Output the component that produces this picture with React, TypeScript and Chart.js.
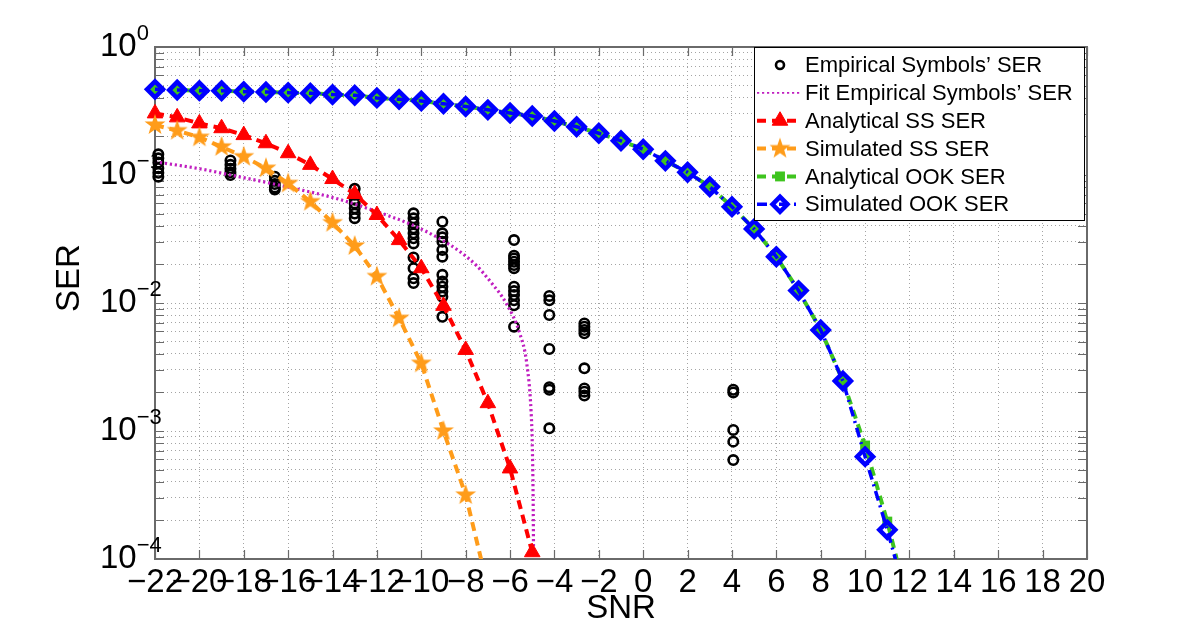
import React, { useEffect, useRef } from 'react';
import { Chart, registerables } from 'chart.js';
import { drawPoint } from 'chart.js/helpers';

Chart.register(...registerables);

// ---------- data ----------
const snrOOK = [-22, -21, -20, -19, -18, -17, -16, -15, -14, -13, -12, -11, -10, -9, -8, -7, -6, -5, -4, -3, -2, -1, 0, 1, 2, 3, 4, 5, 6, 7, 8, 9, 10, 11, 12];
const analyticalOOK = [0.467, 0.461, 0.456, 0.455, 0.448, 0.445, 0.44, 0.435, 0.425, 0.42, 0.4, 0.39, 0.379, 0.36, 0.343, 0.323, 0.305, 0.289, 0.264, 0.238, 0.212, 0.185, 0.159, 0.129, 0.105, 0.081, 0.0565, 0.0379, 0.023, 0.0125, 0.00615, 0.00246, 0.00077, 0.000196, 0.00004];
const simulatedOOK = [0.467, 0.461, 0.456, 0.455, 0.448, 0.445, 0.44, 0.435, 0.425, 0.42, 0.4, 0.39, 0.379, 0.36, 0.343, 0.323, 0.305, 0.289, 0.264, 0.238, 0.212, 0.185, 0.159, 0.129, 0.105, 0.081, 0.0565, 0.0379, 0.023, 0.0125, 0.00615, 0.00246, 0.00063, 0.000169, 0.00004];

const snrAnalyticalSS = [-22, -21, -20, -19, -18, -17, -16, -15, -14, -13, -12, -11, -10, -9, -8, -7, -6, -5];
const analyticalSS = [0.303, 0.282, 0.253, 0.232, 0.205, 0.177, 0.148, 0.12, 0.093, 0.0711, 0.0487, 0.031, 0.0187, 0.0095, 0.0043, 0.00165, 0.00051, 0.000113];

const snrSimulatedSS = [-22, -21, -20, -19, -18, -17, -16, -15, -14, -13, -12, -11, -10, -9, -8, -7];
const simulatedSS = [0.246, 0.222, 0.197, 0.166, 0.139, 0.113, 0.086, 0.0619, 0.0424, 0.0279, 0.0161, 0.0076, 0.00338, 0.001, 0.000316, 0.00006];

const fitSNR = [-22, -20, -18.6, -16.4, -13.7, -12, -10.4, -9.2, -8.3, -7.5, -6.9, -6.15, -5.55, -5.25, -5.05, -5.0, -4.96, -4.94, -4.93];
const fitSER = [0.127, 0.112, 0.1, 0.0833, 0.0646, 0.0517, 0.0407, 0.032, 0.0255, 0.0195, 0.0148, 0.0098, 0.0057, 0.0034, 0.0014, 0.0008, 0.0003, 0.0001, 0.00005];

const empiricalSNR = [-21.85, -18.6, -16.6, -13.0, -10.35, -9.05, -5.82, -4.23, -2.65, 4.06];
const empiricalSER = [
  [0.145, 0.135, 0.125, 0.113, 0.104, 0.097],
  [0.13, 0.12, 0.112, 0.105, 0.1],
  [0.097, 0.09, 0.085, 0.08, 0.077],
  [0.078, 0.07, 0.064, 0.06, 0.055, 0.05, 0.046],
  [0.0502, 0.0459, 0.042, 0.0383, 0.035, 0.032, 0.0292, 0.0227, 0.0187, 0.0156, 0.0143],
  [0.0432, 0.035, 0.0326, 0.0301, 0.026, 0.023, 0.0166, 0.0147, 0.0134, 0.0123, 0.0112, 0.0078],
  [0.031, 0.0234, 0.0223, 0.021, 0.0198, 0.0187, 0.0134, 0.0124, 0.01155, 0.0105, 0.0096, 0.00653],
  [0.01135, 0.0105, 0.00806, 0.00437, 0.0022, 0.0021, 0.00105],
  [0.00693, 0.00653, 0.00615, 0.0058, 0.00309, 0.00215, 0.00203, 0.00189],
  [0.0021, 0.002, 0.00102, 0.000826, 0.000593],
];

const xTickValues = [-22, -20, -18, -16, -14, -12, -10, -8, -6, -4, -2, 0, 2, 4, 6, 8, 10, 12, 14, 16, 18, 20];
const yDecades = [1e-4, 1e-3, 1e-2, 1e-1, 1];
const yDecadeExponents = ['\u22124', '\u22123', '\u22122', '\u22121', '0'];
const yMantissas = [1, 2, 3, 4, 5, 6, 7, 8, 9];

const legendLabels = [
  'Empirical Symbols\u2019 SER',
  'Fit Empirical Symbols\u2019 SER',
  'Analytical SS SER',
  'Simulated SS SER',
  'Analytical OOK SER',
  'Simulated OOK SER',
];

const xTitle = 'SNR';
const yTitle = 'SER';

// ---------- styling ----------
const NARROW = "'Liberation Sans Narrow', 'Liberation Sans', Arial, sans-serif";
const REGULAR = "'Liberation Sans', Arial, sans-serif";
const AXIS_COLOR = '#6a6a6a';
const GRID_COLOR = '#a4a4a4';
const TICK_LEN = 9;

const pts = (xs: number[], ys: number[]) => xs.map((x, i) => ({ x, y: ys[i] }));

function makeStar(color: string, outer: number): HTMLCanvasElement {
  const size = Math.ceil(outer * 2 + 2);
  const c = document.createElement('canvas');
  c.width = size;
  c.height = size;
  const g = c.getContext('2d')!;
  const cx = size / 2;
  const cy = size / 2;
  const inner = outer * 0.4;
  g.beginPath();
  for (let i = 0; i < 10; i++) {
    const r = i % 2 === 0 ? outer : inner;
    const a = -Math.PI / 2 + (i * Math.PI) / 5;
    const px = cx + r * Math.cos(a);
    const py = cy + r * Math.sin(a);
    if (i === 0) g.moveTo(px, py);
    else g.lineTo(px, py);
  }
  g.closePath();
  g.fillStyle = color;
  g.fill();
  return c;
}

const axesBoxPlugin = {
  id: 'axesBox',
  beforeDatasetsDraw(chart: any) {
    const { ctx, chartArea: a, scales } = chart;
    ctx.save();
    ctx.setLineDash([]);
    ctx.strokeStyle = AXIS_COLOR;
    ctx.lineWidth = 1.2;
    ctx.beginPath();
    for (const t of scales.x.ticks) {
      const px = Math.round(scales.x.getPixelForValue(t.value)) + 0.5;
      ctx.moveTo(px, a.bottom);
      ctx.lineTo(px, a.bottom - TICK_LEN);
      ctx.moveTo(px, a.top);
      ctx.lineTo(px, a.top + TICK_LEN);
    }
    for (const t of scales.y.ticks) {
      const py = Math.round(scales.y.getPixelForValue(t.value)) + 0.5;
      ctx.moveTo(a.left, py);
      ctx.lineTo(a.left + TICK_LEN, py);
      ctx.moveTo(a.right, py);
      ctx.lineTo(a.right - TICK_LEN, py);
    }
    ctx.stroke();
    ctx.lineWidth = 2;
    ctx.strokeRect(a.left, a.top, a.right - a.left, a.bottom - a.top);
    ctx.restore();
  },
};

const yLabelsPlugin = {
  id: 'yLabels',
  afterDraw(chart: any) {
    const { ctx, chartArea: a, scales } = chart;
    ctx.save();
    ctx.fillStyle = '#000';
    ctx.textAlign = 'left';
    const x0 = a.left - 55;
    yDecades.forEach((v, i) => {
      const py = scales.y.getPixelForValue(v);
      ctx.font = `33px ${NARROW}`;
      ctx.textBaseline = 'middle';
      ctx.fillText('10', x0, py);
      const w = ctx.measureText('10').width;
      ctx.font = `22px ${NARROW}`;
      ctx.textBaseline = 'alphabetic';
      ctx.fillText(yDecadeExponents[i], x0 + w, py - 7);
    });
    // y-axis title (placed slightly above the axis middle, as in the reference)
    ctx.save();
    ctx.translate(a.left - 85, (a.top + a.bottom) / 2 - 25);
    ctx.rotate(-Math.PI / 2);
    ctx.font = `33px ${NARROW}`;
    ctx.textAlign = 'center';
    ctx.textBaseline = 'middle';
    ctx.fillText(yTitle, 0, 0);
    ctx.restore();
    ctx.restore();
  },
};

const legendPlugin = {
  id: 'customLegend',
  afterDraw(chart: any) {
    const { ctx, chartArea: a } = chart;
    const lw = 330;
    const lh = 173;
    const lx = a.right - 333;
    const ly = a.top;
    ctx.save();
    ctx.setLineDash([]);
    ctx.fillStyle = '#fff';
    ctx.fillRect(lx, ly, lw, lh);
    ctx.strokeStyle = '#000';
    ctx.lineWidth = 1;
    ctx.strokeRect(lx + 0.5, ly + 0.5, lw, lh);
    const rowH = 27.86;
    chart.data.datasets.forEach((ds: any, i: number) => {
      const cy = ly + 18 + i * rowH;
      if (ds.showLine !== false) {
        ctx.save();
        ctx.strokeStyle = ds.borderColor;
        ctx.lineWidth = ds.legendLineWidth || ds.borderWidth;
        ctx.setLineDash(ds.borderDash || []);
        ctx.beginPath();
        ctx.moveTo(lx + 3, cy);
        ctx.lineTo(lx + 47, cy);
        ctx.stroke();
        ctx.restore();
      }
      if (ds.pointRadius > 0 || typeof ds.pointStyle !== 'string') {
        ctx.save();
        ctx.setLineDash([]);
        ctx.fillStyle = ds.pointBackgroundColor;
        ctx.strokeStyle = ds.pointBorderColor;
        ctx.lineWidth = ds.pointBorderWidth;
        drawPoint(ctx, { pointStyle: ds.pointStyle, radius: ds.legendPointRadius || ds.pointRadius, rotation: 0, borderWidth: ds.pointBorderWidth }, lx + 26, cy);
        ctx.restore();
      }
      ctx.fillStyle = '#000';
      ctx.font = `22px ${REGULAR}`;
      ctx.textAlign = 'left';
      ctx.textBaseline = 'middle';
      ctx.fillText(ds.label, lx + 51, cy + 1);
    });
    ctx.restore();
  },
};

export default function App() {
  const ref = useRef<HTMLCanvasElement>(null);

  useEffect(() => {
    const star = makeStar('#ff9c1a', 11);
    const clip = { left: 14, right: 14, top: 14, bottom: 0 };
    const empiricalPoints = empiricalSNR.flatMap((x, i) => empiricalSER[i].map((y) => ({ x, y })));

    const datasets: any[] = [
      {
        label: legendLabels[0],
        data: empiricalPoints,
        showLine: false,
        pointStyle: 'circle',
        pointRadius: 4.7,
        legendPointRadius: 4,
        pointBorderWidth: 2.6,
        pointBorderColor: '#000',
        pointBackgroundColor: 'rgba(0,0,0,0)',
        borderColor: '#000',
        order: 6,
        clip,
      },
      {
        label: legendLabels[1],
        data: pts(fitSNR, fitSER),
        borderColor: '#c01ec0',
        borderWidth: 3.2,
        legendLineWidth: 1.6,
        borderDash: [2.2, 2.8],
        cubicInterpolationMode: 'monotone',
        pointRadius: 0,
        order: 5,
        clip,
      },
      {
        label: legendLabels[2],
        data: pts(snrAnalyticalSS, analyticalSS),
        borderColor: '#ff0000',
        borderWidth: 4,
        borderDash: [9, 6],
        pointStyle: 'triangle',
        pointRadius: 9,
        pointBorderWidth: 1,
        pointBackgroundColor: '#ff0000',
        pointBorderColor: '#ff0000',
        order: 4,
        clip,
      },
      {
        label: legendLabels[3],
        data: pts(snrSimulatedSS, simulatedSS),
        borderColor: '#ff9c1a',
        borderWidth: 4,
        borderDash: [9, 6],
        pointStyle: star,
        pointRadius: 10,
        pointBorderWidth: 0,
        pointBackgroundColor: '#ff9c1a',
        pointBorderColor: '#ff9c1a',
        order: 3,
        clip,
      },
      {
        label: legendLabels[4],
        data: pts(snrOOK, analyticalOOK),
        borderColor: '#3ec41e',
        borderWidth: 4,
        borderDash: [9, 6],
        pointStyle: 'rect',
        pointRadius: 7,
        pointBorderWidth: 0,
        pointBackgroundColor: '#3ec41e',
        pointBorderColor: '#3ec41e',
        order: 2,
        clip,
      },
      {
        label: legendLabels[5],
        data: pts(snrOOK, simulatedOOK),
        borderColor: '#0000ff',
        borderWidth: 3.5,
        borderDash: [10, 5, 2, 5],
        pointStyle: 'rectRot',
        pointRadius: 8,
        legendPointRadius: 7.5,
        pointBorderWidth: 4.5,
        pointBackgroundColor: 'rgba(255,255,255,0)',
        pointBorderColor: '#0000ff',
        order: 1,
        clip,
      },
    ];

    const chart = new Chart(ref.current!, {
      type: 'line',
      data: { datasets },
      options: {
        animation: false,
        responsive: true,
        maintainAspectRatio: false,
        events: [],
        layout: { padding: { top: 47, right: 113, left: 0, bottom: 0 } },
        plugins: {
          legend: { display: false },
          tooltip: { enabled: false },
        },
        scales: {
          x: {
            type: 'linear',
            min: -22,
            max: 20,
            afterBuildTicks: (s: any) => {
              s.ticks = xTickValues.map((value) => ({ value }));
            },
            afterFit: (s: any) => {
              s.height = 71;
            },
            grid: { color: GRID_COLOR, lineWidth: 1, drawTicks: false },
            border: { display: false, dash: [1, 3] },
            ticks: {
              color: '#000',
              font: { family: NARROW, size: 33 },
              padding: 4,
              maxRotation: 0,
              autoSkip: false,
              callback: (v: any) => String(v).replace('-', '\u2212'),
            },
            title: {
              display: true,
              text: xTitle,
              color: '#000',
              font: { family: NARROW, size: 33 },
              padding: { top: 0, bottom: 1 },
            },
          },
          y: {
            type: 'logarithmic',
            min: 1e-4,
            max: 1,
            afterBuildTicks: (s: any) => {
              const ticks: any[] = [];
              yDecades.slice(0, -1).forEach((d) => yMantissas.forEach((m) => ticks.push({ value: d * m })));
              ticks.push({ value: yDecades[yDecades.length - 1] });
              s.ticks = ticks;
            },
            afterFit: (s: any) => {
              s.width = 155;
            },
            grid: { color: GRID_COLOR, lineWidth: 1, drawTicks: false },
            border: { display: false, dash: [1, 3] },
            ticks: { display: false },
            title: { display: false },
          },
        },
      },
      plugins: [axesBoxPlugin, yLabelsPlugin, legendPlugin],
    } as any);

    return () => chart.destroy();
  }, []);

  return (
    <div style={{ position: 'fixed', left: 0, top: 0, width: 1200, height: 630, background: '#fff' }}>
      <canvas ref={ref} />
    </div>
  );
}
